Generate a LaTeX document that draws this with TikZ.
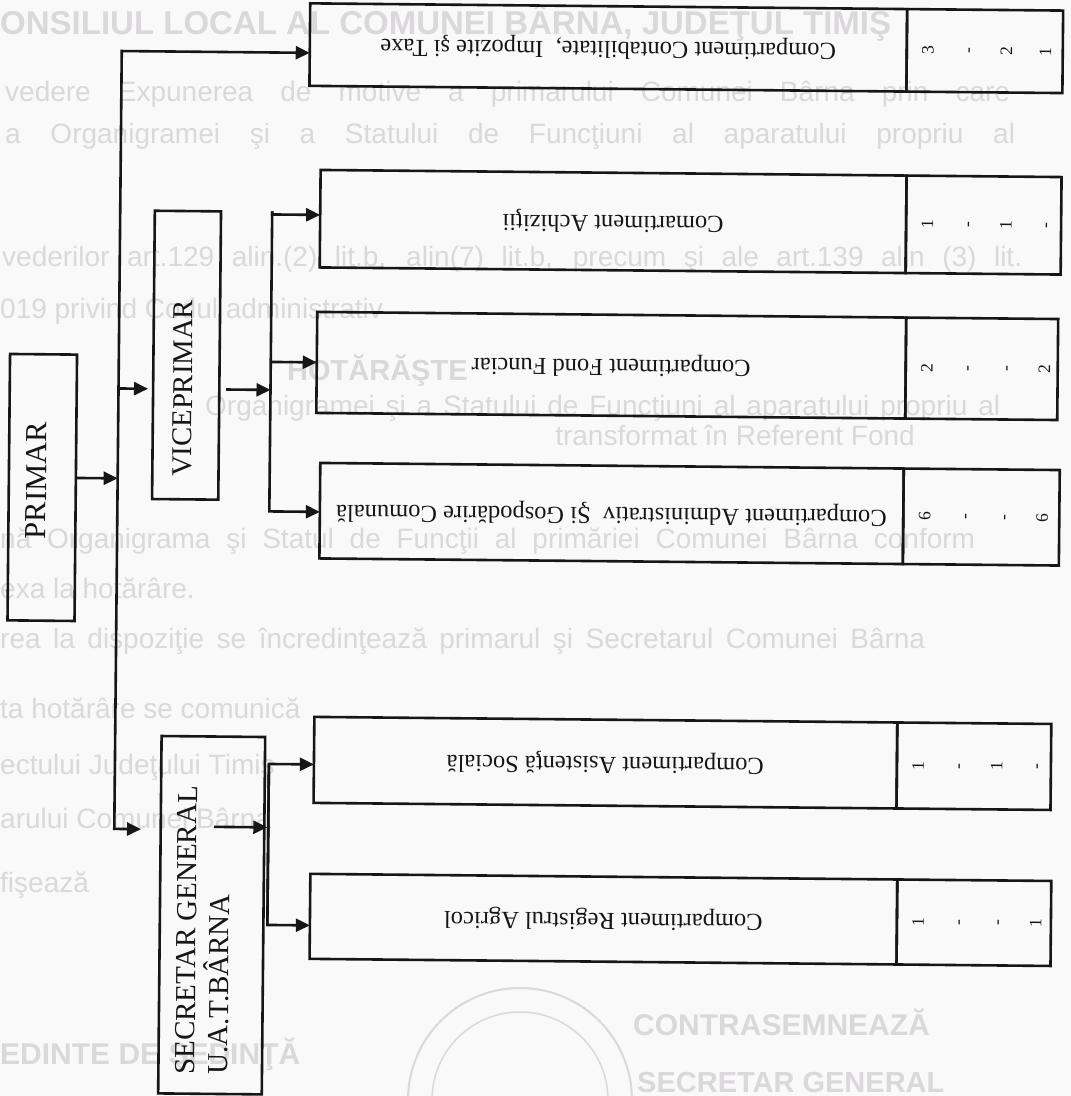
\documentclass[tikz,border=0pt]{standalone}
\usepackage{fontspec}
\setmainfont{Liberation Serif}
\newfontfamily\bgfont{Liberation Sans}
\usetikzlibrary{arrows.meta,calc}
\definecolor{ink}{RGB}{22,22,22}
\definecolor{paper}{RGB}{250,249,250}
\definecolor{ghost}{RGB}{218,216,218}
\tikzset{
  conn/.style={draw=ink,line width=2.6pt},
  arr/.style={conn,-{Triangle[length=14pt,width=13pt]}},
  arrboth/.style={conn,{Triangle[length=14pt,width=13pt]}-{Triangle[length=14pt,width=13pt]}},
  cell/.style={draw=ink,line width=2.6pt,inner sep=0pt,outer sep=0pt},
  ctext/.style={text=ink,inner sep=0pt,text height=16.7pt,text depth=5.4pt,font=\fontsize{24.5}{28}\selectfont,rotate=180},
  numtxt/.style={text=ink,inner sep=0pt,text height=12pt,text depth=0pt,font=\fontsize{17.5}{20}\selectfont,rotate=90},
  vlabel/.style={text=ink,inner sep=0pt,rotate=90},
  ghosttxt/.style={text=ghost,inner sep=0pt,anchor=base west,font=\bgfont\fontsize{28}{32}\selectfont},
  ghostbold/.style={ghosttxt,font=\bgfont\bfseries\fontsize{30}{34}\selectfont},
}
% name, x0, x1, x2, y0, y1, text
\newcommand{\compart}[7]{%
  \node[cell,minimum width={(#3-#2)*1pt},minimum height={(#6-#5)*1pt}] (#1) at ({(#2+#3)/2},{(#5+#6)/2}) {};
  \node[cell,minimum width={(#4-#3)*1pt},minimum height={(#6-#5)*1pt}] (#1n) at ({(#3+#4)/2},{(#5+#6)/2}) {};
  \node[ctext] (#1t) at (#1.center) {#7};
}
% name, x1, cy, four values
\newcommand{\cellnums}[7]{%
  \node[numtxt] (#1a) at ({#2+21},#3) {#4};
  \node[numtxt] (#1b) at ({#2+60.5},#3) {#5};
  \node[numtxt] (#1c) at ({#2+99.5},#3) {#6};
  \node[numtxt] (#1d) at ({#2+138.5},#3) {#7};
}
\begin{document}
\begin{tikzpicture}[x=1pt,y=-1pt]
\path[use as bounding box,fill=paper] (0,0) rectangle (1071,1096);

% faint text showing through the scanned sheet
\node[ghostbold,font=\bgfont\bfseries\fontsize{33}{38}\selectfont] (g1) at (0,34) {ONSILIUL LOCAL AL COMUNEI BÂRNA, JUDEŢUL TIMIŞ};
\node[ghosttxt] (g2) at (5,101) {\makebox[1005pt][s]{vedere Expunerea de motive a primarului Comunei Bârna prin care}};
\node[ghosttxt] (g3) at (5,143) {\makebox[1010pt][s]{a Organigramei şi a Statului de Funcţiuni al aparatului propriu al}};
\node[ghosttxt] (g4) at (2,266) {\makebox[1020pt][s]{vederilor art.129 alin.(2) lit.b, alin(7) lit.b, precum şi ale art.139 alin (3) lit.}};
\node[ghosttxt] (g5) at (0,318) {019 privind Codul administrativ};
\node[ghostbold,font=\bgfont\bfseries\fontsize{29}{34}\selectfont] (g6) at (287,380) {HOTĂRĂŞTE};
\node[ghosttxt] (g7) at (205,415) {\makebox[795pt][s]{Organigramei şi a Statului de Funcţiuni al aparatului propriu al}};
\node[ghosttxt,anchor=base east] (g8) at (915,445) {transformat în Referent Fond};
\node[ghosttxt] (g10) at (0,548) {\makebox[975pt][s]{nă Organigrama şi Statul de Funcţii al primăriei Comunei Bârna conform}};
\node[ghosttxt] (g11) at (0,598) {exa la hotărâre.};
\node[ghosttxt] (g12) at (0,648) {\makebox[925pt][s]{rea la dispoziţie se încredinţează primarul şi Secretarul Comunei Bârna}};
\node[ghosttxt] (g13) at (0,718) {ta hotărâre se comunică};
\node[ghosttxt] (g14) at (0,774) {ectului Judeţului Timiş};
\node[ghosttxt] (g15) at (0,828) {arului Comunei Bârna};
\node[ghosttxt] (g16) at (0,892) {fişează};
\node[ghostbold] (g18) at (0,1064) {EDINTE DE ŞEDINŢĂ};
\node[ghostbold] (g19) at (633,1035) {CONTRASEMNEAZĂ};
\node[ghostbold,font=\bgfont\bfseries\fontsize{29}{34}\selectfont] (g20) at (637,1092) {SECRETAR GENERAL};
\draw[ghost,line width=2pt] (520,1100) circle[radius=112];
\draw[ghost,line width=1.5pt] (520,1100) circle[radius=88];

\begin{scope}[rotate around={-0.55:(535,548)},transform shape]
% compartments
\compart{c1}{305}{902}{1058}{5.5}{88}{Compartiment Contabilitate,~ Impozite şi Taxe}
\compart{c2}{317}{903}{1058}{172}{269.5}{Comartiment Achiziţii}
\compart{c3}{315}{904}{1056}{314}{415}{Compartiment Fond Funciar}
\compart{c4}{319.5}{903}{1059}{465}{560.5}{Compartiment Administrativ~ Şi Gospodărire Comunală}
\compart{c5}{316}{899}{1053}{719}{805}{Compartiment Asistenţă Socială}
\compart{c6}{313.5}{900.5}{1054.5}{876}{961}{Compartiment Registrul Agricol}
\cellnums{k1}{902}{46.75}{3}{-}{2}{1}
\cellnums{k2}{903}{220.75}{1}{-}{1}{-}
\cellnums{k3}{904}{364.5}{2}{-}{-}{2}
\cellnums{k4}{903}{512.75}{6}{-}{-}{6}
\cellnums{k5}{899}{762}{1}{-}{1}{-}
\cellnums{k6}{900.5}{918.5}{1}{-}{-}{1}

% heads
\node[cell,minimum width=67pt,minimum height=266.4pt] (primar) at (41.7,492.2) {};
\node[vlabel,font=\fontsize{30.5}{34}\selectfont] (primarT) at (35.6,485.5) {PRIMAR};
\node[cell,minimum width=66.2pt,minimum height=288.3pt] (vice) at (184.7,358.55) {};
\node[vlabel,font=\fontsize{28.7}{33}\selectfont] (viceT) at (181.5,391.7) {VICEPRIMAR};
\node[cell,minimum width=103.6pt,minimum height=357.4pt] (secr) at (215.2,918.3) {};
\node[vlabel,anchor=base west,font=\fontsize{29}{33}\selectfont] (secT1) at (199.6,1078) {SECRETAR GENERAL};
\node[vlabel,anchor=base west,font=\fontsize{29}{33}\selectfont] (secT2) at (232.6,1078) {U.A.T.BÂRNA};

% connector points
\coordinate (mTop) at (117,55);
\coordinate (mBot) at (117,833);
\coordinate (pOut) at (117,482.4);
\coordinate (tV) at (117,392.5);
\coordinate (vIn) at (146.5,392.5);
\coordinate (vOut) at (224.7,392.5);
\coordinate (vbIn) at (269,392.5);
\coordinate (vBusTop) at (269,214);
\coordinate (vb2) at (269,217);
\coordinate (vb3) at (269,364.5);
\coordinate (vb4) at (269,514);
\coordinate (sTip) at (143.7,833);
\coordinate (sOut) at (216.7,830);
\coordinate (sbIn) at (270,830);
\coordinate (sBusTop) at (271,766.6);
\coordinate (sBusBot) at (271,927.6);

% connectors
\draw[arrboth] (sTip) -- (mBot) -- (mTop) -- (c1.west |- mTop);
\draw[arr] (primar.east |- pOut) -- (pOut);
\draw[arr] (tV) -- (vIn);
\draw[arr] (vOut) -- (vbIn);
\draw[arr] (vBusTop) |- (c2.west |- vb2);
\draw[arr] (vBusTop) |- (c4.west |- vb4);
\draw[arr] (vb3) -- (c3.west |- vb3);
\draw[arr] (sOut) -- (sbIn);
\draw[arr] (sBusBot) |- (c5.west |- sBusTop);
\draw[arr] (sBusTop) |- (c6.west |- sBusBot);
\end{scope}
\end{tikzpicture}
\end{document}
